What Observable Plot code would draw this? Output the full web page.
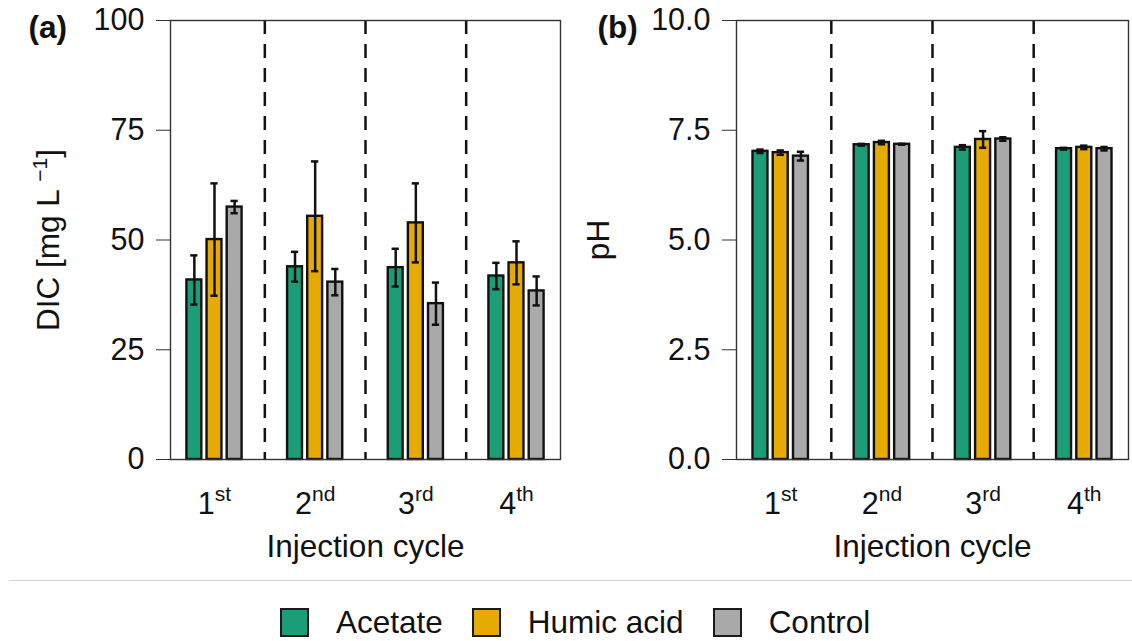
<!DOCTYPE html>
<html>
<head>
<meta charset="utf-8">
<script src="https://cdn.jsdelivr.net/npm/d3@7"></script>
<script src="https://cdn.jsdelivr.net/npm/@observablehq/plot@0.6"></script>
<style>
  body { margin: 0; background: #fff; font-family: "Liberation Sans", Arial, sans-serif; }
  #wrap { position: relative; width: 1132px; height: 641px; overflow: hidden; }
  #panels { display: flex; }
  #sep { position: absolute; left: 9px; right: 0; top: 580px; border-top: 1.5px solid #d3d3d3; }
  #legend { position: absolute; top: 608px; left: 280px; display: flex; align-items: center; }
  .item { display: flex; align-items: center; margin-right: 29px; }
  .sw { width: 29px; height: 29px; box-sizing: border-box; border: 2.5px solid #1a1a1a; margin-right: 27px; }
  .lab { font-size: 31.5px; line-height: 29px; color: #111; }
</style>
</head>
<body>
<div id="wrap">
  <div id="panels"></div>
  <div id="sep"></div>
  <div id="legend"></div>
</div>
<script>
// ---- data ----
const cycles = ["1st", "2nd", "3rd", "4th"];
const treatments = ["Acetate", "Humic acid", "Control"];
const colors = ["#1b9e77", "#e6ab02", "#a9a9a9"];

const dicAcetate    = [40.9, 43.9, 43.7, 41.8];
const dicAcetateErr = [5.6, 3.4, 4.3, 3.0];
const dicHumic      = [50.1, 55.4, 53.9, 44.8];
const dicHumicErr   = [12.8, 12.5, 9.0, 4.9];
const dicControl    = [57.5, 40.4, 35.5, 38.4];
const dicControlErr = [1.4, 3.0, 4.8, 3.3];

const phAcetate    = [7.02, 7.17, 7.11, 7.08];
const phAcetateErr = [0.04, 0.02, 0.05, 0.02];
const phHumic      = [6.99, 7.22, 7.29, 7.11];
const phHumicErr   = [0.05, 0.04, 0.19, 0.04];
const phControl    = [6.91, 7.18, 7.30, 7.08];
const phControlErr = [0.10, 0.01, 0.04, 0.04];

const dicTicks = [0, 25, 50, 75, 100];
const phTicks = [0, 2.5, 5, 7.5, 10];

function buildRows(series) {
  const rows = [];
  series.forEach(([vals, errs], ti) => {
    vals.forEach((v, ci) => rows.push({ci: ci + 1, ti, treatment: treatments[ti], value: v, err: errs[ci]}));
  });
  return rows;
}

const dicRows = buildRows([[dicAcetate, dicAcetateErr], [dicHumic, dicHumicErr], [dicControl, dicControlErr]]);
const phRows = buildRows([[phAcetate, phAcetateErr], [phHumic, phHumicErr], [phControl, phControlErr]]);

const STEP = 0.2, HALF = 0.074, CAP = 0.036;
const ctr = d => d.ci + (d.ti - 1) * STEP;

function panel({rows, yDomain, ticks, fmt, title, tag, marginRight, titleDx, tagDx}) {
  const svg = Plot.plot({
    width: 566,
    height: 578,
    marginLeft: 170,
    marginRight,
    marginTop: 20,
    marginBottom: 119,
    style: {fontFamily: "Liberation Sans, Arial, sans-serif", fontSize: "30.5px", color: "#111", background: "white", overflow: "visible"},
    x: {type: "linear", domain: [1 - 0.437, 4 + 0.437]},
    y: {domain: yDomain},
    color: {domain: treatments, range: colors},
    marks: [
      Plot.ruleX([1.5, 2.5, 3.5], {x: d => d, stroke: "#111", strokeWidth: 2.5, strokeDasharray: "14,10"}),
      Plot.rectY(rows, {x1: d => ctr(d) - HALF, x2: d => ctr(d) + HALF, y1: 0, y2: "value", fill: "treatment", stroke: "#111", strokeWidth: 2.4}),
      Plot.ruleX(rows, {x: ctr, y1: d => d.value - d.err, y2: d => d.value + d.err, stroke: "#111", strokeWidth: 2.5}),
      Plot.ruleY(rows, {y: d => d.value + d.err, x1: d => ctr(d) - CAP, x2: d => ctr(d) + CAP, stroke: "#111", strokeWidth: 2.5}),
      Plot.ruleY(rows, {y: d => d.value - d.err, x1: d => ctr(d) - CAP, x2: d => ctr(d) + CAP, stroke: "#111", strokeWidth: 2.5}),
      Plot.frame({stroke: "#333", strokeWidth: 1.4}),
      Plot.axisY({ticks, tickFormat: fmt, tickSize: 14, tickPadding: 12, label: null, stroke: "#333"}),
      Plot.axisX({ticks: [1, 2, 3, 4], tickFormat: i => cycles[i - 1], tickSize: 0, tickPadding: 33, label: null}),
      Plot.text([title], {text: d => d, frameAnchor: "left", textAnchor: "middle", rotate: -90, lineAnchor: "bottom", dx: titleDx, fontSize: 31.5}),
      Plot.text(["Injection cycle"], {text: d => d, frameAnchor: "bottom", textAnchor: "middle", lineAnchor: "top", dy: 75, fontSize: 31.5}),
      Plot.text([tag], {text: d => d, frameAnchor: "top-left", textAnchor: "start", lineAnchor: "bottom", dx: tagDx, dy: 17, fontWeight: "bold", fontSize: 31.5})
    ]
  });
  const NS = "http://www.w3.org/2000/svg";
  // superscript ordinals on x tick labels
  svg.querySelectorAll('g[aria-label="x-axis tick label"] text').forEach(t => {
    const s = t.textContent;
    const m = s.match(/^(\d+)(\D+)$/);
    if (!m) return;
    t.textContent = "";
    const a = document.createElementNS(NS, "tspan"); a.textContent = m[1];
    const b = document.createElementNS(NS, "tspan"); b.textContent = m[2];
    b.setAttribute("font-size", "21"); b.setAttribute("dy", "-13");
    t.append(a, b);
  });
  // superscript in y title
  svg.querySelectorAll("text").forEach(t => {
    if (t.textContent === "DIC [mg L]") {
      t.textContent = "";
      const a = document.createElementNS(NS, "tspan"); a.textContent = "DIC [mg L ";
      const b = document.createElementNS(NS, "tspan"); b.textContent = "\u22121";
      b.setAttribute("font-size", "21"); b.setAttribute("dy", "-12");
      const c = document.createElementNS(NS, "tspan"); c.textContent = "]";
      c.setAttribute("dy", "12");
      t.append(a, b, c);
    }
  });
  return svg;
}

const panels = document.getElementById("panels");
panels.append(panel({rows: dicRows, yDomain: [0, 100], ticks: dicTicks, fmt: d3.format("d"), title: "DIC [mg L]", tag: "(a)", marginRight: 6, titleDx: -112, tagDx: -142}));
panels.append(panel({rows: phRows, yDomain: [0, 10], ticks: phTicks, fmt: d3.format(".1f"), title: "pH", tag: "(b)", marginRight: 4, titleDx: -128, tagDx: -139}));

// legend
const legend = document.getElementById("legend");
treatments.forEach((t, i) => {
  const item = document.createElement("div"); item.className = "item";
  const sw = document.createElement("div"); sw.className = "sw"; sw.style.background = colors[i];
  const lab = document.createElement("div"); lab.className = "lab"; lab.textContent = t;
  item.append(sw, lab); legend.append(item);
});
</script>
</body>
</html>
